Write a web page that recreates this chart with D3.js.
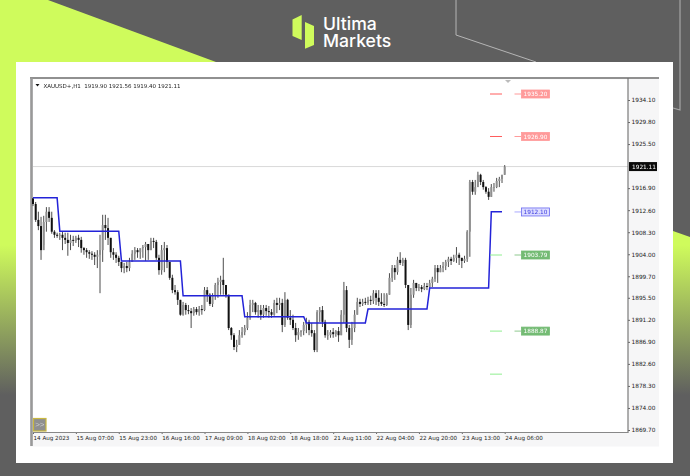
<!DOCTYPE html>
<html>
<head>
<meta charset="utf-8">
<script src="https://cdn.jsdelivr.net/npm/d3@7"></script>
<style>
html,body{margin:0;padding:0;background:#5f5f5f;overflow:hidden}
svg{display:block}
.soft{filter:blur(0.42px)}
text{font-family:"Liberation Sans",sans-serif}
</style>
</head>
<body>
<svg id="c" width="690" height="476"></svg>
<script>
const symbolTitle = "XAUUSD+,H1  1919.90 1921.56 1919.40 1921.11";
const brandWords = ["Ultima", "Markets"];
const priceTicks = [1934.10,1929.80,1925.50,1916.90,1912.60,1908.30,1904.00,1899.70,1895.50,1891.20,1886.90,1882.60,1878.30,1874.00,1869.70];
const timeLabels = ["14 Aug 2023","15 Aug 07:00","15 Aug 23:00","16 Aug 16:00","17 Aug 09:00","18 Aug 02:00","18 Aug 18:00","21 Aug 11:00","22 Aug 04:00","22 Aug 20:00","23 Aug 13:00","24 Aug 06:00"];
const barsPerLabel = 16;
const lastPrice = 1921.11;

const highs = [1915.0,1914.2,1912.3,1911.3,1911.5,1913.2,1913.2,1912.3,1908.7,1908.2,
1908.2,1908.4,1908.2,1908.2,1907.8,1907.6,1907.6,1907.8,1907.4,1905.4,
1905.2,1904.8,1904.6,1904.4,1904.8,1907.8,1911.7,1911.7,1911.1,1907.2,
1905.2,1904.4,1903.7,1902.5,1902.3,1902.5,1903.3,1904.8,1905.4,1905.2,
1904.8,1905.8,1906.4,1906.0,1907.2,1907.2,1906.8,1903.9,1905.8,1906.4,
1905.8,1902.5,1900.0,1898.0,1897.0,1895.1,1894.7,1894.5,1894.1,1893.5,
1893.7,1893.7,1893.9,1894.1,1897.6,1897.6,1896.4,1896.4,1898.4,1899.4,
1899.8,1903.3,1898.0,1896.1,1889.8,1888.6,1887.3,1889.2,1889.8,1890.2,
1892.7,1895.1,1895.1,1894.7,1894.1,1894.1,1894.1,1894.1,1893.9,1893.3,
1895.1,1895.5,1895.5,1895.3,1896.6,1895.3,1893.1,1892.2,1890.6,1889.6,
1889.2,1890.8,1891.6,1891.2,1890.6,1889.2,1893.1,1893.7,1893.9,1891.2,
1889.2,1889.2,1889.6,1889.2,1889.8,1893.1,1898.6,1897.8,1890.2,1890.8,
1893.1,1895.5,1895.3,1895.3,1895.5,1895.7,1895.9,1897.0,1897.0,1897.0,
1896.4,1896.4,1896.4,1900.3,1901.9,1901.9,1903.5,1904.4,1903.3,1903.3,
1898.0,1897.4,1899.0,1898.4,1898.2,1898.0,1898.4,1898.4,1899.0,1899.6,
1901.9,1901.9,1901.9,1902.5,1902.9,1903.5,1903.5,1903.9,1905.4,1904.3,
1903.3,1903.7,1908.7,1918.5,1918.5,1918.5,1920.1,1919.7,1918.5,1917.3,
1916.9,1917.7,1917.9,1918.9,1919.1,1919.5,1921.4];

const lows = [1913.4,1910.3,1908.7,1902.9,1905.8,1908.4,1910.3,1908.0,1907.2,1907.2,
1906.8,1904.8,1906.0,1903.7,1904.8,1905.6,1906.2,1905.4,1904.3,1903.9,
1903.3,1903.1,1902.9,1901.9,1901.3,1896.4,1902.5,1906.8,1905.8,1903.3,
1902.9,1902.3,1901.7,1900.5,1900.3,1900.5,1900.7,1902.5,1902.9,1903.3,
1903.1,1903.3,1902.7,1902.9,1904.8,1905.2,1902.9,1900.0,1900.0,1900.5,
1901.3,1899.0,1896.4,1896.1,1894.1,1892.0,1892.0,1892.2,1892.3,1889.6,
1892.0,1892.2,1892.0,1892.2,1892.9,1894.7,1893.9,1893.7,1895.1,1895.5,
1896.1,1896.1,1895.5,1889.2,1887.3,1885.3,1884.9,1886.3,1887.7,1888.2,
1889.2,1891.2,1892.7,1892.2,1891.6,1891.2,1891.6,1892.0,1891.6,1891.6,
1892.0,1892.5,1893.1,1888.8,1889.8,1891.2,1890.2,1889.2,1886.9,1887.3,
1887.9,1888.2,1888.6,1888.2,1887.9,1884.9,1884.9,1890.8,1889.8,1887.7,
1887.3,1887.7,1887.7,1887.9,1886.9,1888.2,1890.6,1888.8,1885.7,1886.3,
1888.8,1892.2,1893.7,1893.9,1894.1,1894.1,1894.1,1894.3,1894.1,1893.9,
1893.9,1893.7,1893.9,1896.1,1898.6,1899.0,1900.0,1901.9,1901.7,1897.4,
1889.2,1889.6,1895.5,1896.8,1896.8,1896.6,1897.0,1897.0,1897.4,1897.6,
1898.6,1898.4,1900.5,1900.5,1900.9,1901.5,1901.9,1902.5,1902.3,1901.9,
1901.3,1902.3,1902.5,1903.5,1915.6,1915.6,1917.5,1917.5,1916.6,1915.8,
1914.6,1915.2,1916.2,1916.9,1917.1,1917.9,1919.5];

const closes = [1913.8,1910.7,1909.5,1904.8,1910.3,1912.3,1911.1,1908.4,1907.8,1907.6,
1907.8,1907.2,1906.8,1906.2,1906.8,1906.6,1907.2,1906.8,1905.2,1904.8,
1904.4,1904.1,1903.9,1903.5,1903.9,1904.8,1909.7,1909.1,1907.2,1904.4,
1903.9,1903.3,1902.5,1901.3,1901.7,1901.3,1902.5,1904.1,1904.8,1904.4,
1905.2,1905.4,1906.0,1904.8,1906.6,1906.4,1903.3,1900.9,1904.8,1905.2,
1902.5,1899.4,1897.0,1896.6,1895.1,1892.2,1894.1,1893.1,1892.9,1892.5,
1893.3,1892.7,1893.3,1893.1,1897.0,1896.1,1894.3,1895.9,1898.0,1898.6,
1899.0,1898.0,1896.1,1889.6,1888.2,1885.9,1886.3,1888.2,1888.8,1889.6,
1891.6,1894.1,1894.5,1892.7,1893.1,1892.2,1893.5,1892.9,1892.7,1892.2,
1894.5,1894.1,1894.5,1890.2,1895.1,1891.6,1891.2,1889.6,1888.2,1888.8,
1889.0,1890.2,1890.8,1889.2,1888.6,1885.3,1892.7,1893.1,1890.8,1888.2,
1888.2,1888.8,1888.4,1889.0,1888.2,1892.2,1897.0,1889.6,1887.3,1889.6,
1892.2,1894.7,1894.3,1894.7,1894.5,1895.1,1894.9,1896.4,1895.5,1894.7,
1894.3,1894.1,1896.1,1899.4,1901.3,1900.5,1902.9,1902.3,1902.9,1898.0,
1890.2,1896.1,1898.4,1897.4,1897.6,1897.2,1897.8,1897.6,1898.4,1899.2,
1901.3,1900.5,1901.3,1901.7,1902.5,1903.1,1902.7,1903.3,1903.9,1903.3,
1902.7,1903.1,1908.4,1918.1,1916.2,1917.1,1919.5,1918.1,1917.1,1916.2,
1915.2,1917.1,1917.1,1918.3,1918.7,1919.5,1921.11];
// each bar opens at the previous bar's close
const opens = [1914.9, ...closes.slice(0, -1)];

const pivotBars =   [0,9,10,32,33,55,56,78,79,101,102,124,125,147,148,170,171,175];
const pivotLevels = [1915.0,1915.0,1908.5,1908.5,1902.7,1902.7,1895.9,1895.9,1891.8,1891.8,1890.6,1890.6,1893.3,1893.3,1897.4,1897.4,1912.3,1912.3];

const levelValues = [1935.27,1926.98,1912.25,1903.85,1889.0,1880.6];
const levelLabels = ["1935.20","1926.90","1912.10","1903.79","1888.87",""];
const levelKinds  = ["red","red","blue","green","green","green"];

const svg = d3.select("#c");
const defs = svg.append("defs");
const grad = defs.append("linearGradient").attr("id","lime").attr("gradientUnits","userSpaceOnUse")
  .attr("x1",0).attr("x2",0).attr("y1",245).attr("y2",395);
grad.append("stop").attr("offset",0).attr("stop-color","#cffb5c");
grad.append("stop").attr("offset",1).attr("stop-color","#5f5f5f");

// background
svg.append("rect").attr("width",690).attr("height",476).attr("fill","#5f5f5f");
svg.append("polygon").attr("points","0,0 48,0 216,62 16,62 16,476 0,476").attr("fill","url(#lime)");
svg.append("polygon").attr("points","673,231 690,237 690,476 673,476").attr("fill","url(#lime)");
svg.append("polyline").attr("points","456,0 456,35 536,62").attr("fill","none").attr("stroke","#b5b5b5").attr("stroke-width",1);
svg.append("polyline").attr("points","680,0 680,110 673,108").attr("fill","none").attr("stroke","#a5a5a5").attr("stroke-width",1.2);

// logo
const logo = svg.append("g");
logo.append("polygon").attr("points","292.5,19.5 301.7,15 301.7,40 292.5,36").attr("fill","#cffb5c");
logo.append("polygon").attr("points","305,22 314,26 314,45 305,48.7").attr("fill","#cffb5c");
logo.selectAll("text.brand").data(brandWords).join("text").attr("class","brand")
  .attr("x",323).attr("y",(d,i)=>i?47:29.8).text(d=>d)
  .attr("fill","#fff").style("font-family","Inter,sans-serif").style("font-weight",500).style("font-size","17.6px");

// sheet
svg.append("rect").attr("x",16).attr("y",62).attr("width",657).attr("height",401).attr("fill","#fff");
const chart = svg.append("g").attr("class","soft");
chart.append("rect").attr("x",30).attr("y",77).attr("width",629).attr("height",369.5).attr("fill","#f6f6f7");

const x = d3.scaleLinear().domain([0,176]).range([33,504.7]);
const y = d3.scaleLinear().domain([1869.70,1934.10]).range([430,100]);

chart.append("rect").attr("x",33).attr("y",79.5).attr("width",595).attr("height",352.5).attr("fill","#fff");
chart.append("line").attr("x1",33).attr("x2",628).attr("y1",y(lastPrice)).attr("y2",y(lastPrice)).attr("stroke","#d9d9d9").attr("stroke-width",1);

// axes
const yAxis = d3.axisRight(y).tickValues(priceTicks).tickSize(2).tickPadding(1.5).tickFormat(d3.format(".2f"));
const yG = chart.append("g").attr("transform","translate(628,0)").call(yAxis);
const xTicks = timeLabels.map((d,i)=>i*barsPerLabel);
const xAxis = d3.axisBottom(x).tickValues(xTicks).tickSize(2).tickPadding(2).tickFormat((d,i)=>timeLabels[i]);
const xG = chart.append("g").attr("transform","translate(0,432)").call(xAxis);
yG.select(".domain").remove(); xG.select(".domain").remove();
chart.selectAll(".tick line").attr("stroke","#444").attr("stroke-width",.8);
yG.selectAll("text").attr("fill","#222").style("font-size","5.8px").style("font-family","'DejaVu Sans',sans-serif");
xG.selectAll("text").attr("fill","#222").attr("text-anchor","start").style("font-size","5.6px").style("font-family","'DejaVu Sans',sans-serif");

// frame
chart.append("line").attr("x1",30).attr("x2",659).attr("y1",78).attr("y2",78).attr("stroke","#6e6e6e").attr("stroke-width",1.4);
chart.append("line").attr("x1",628).attr("x2",628).attr("y1",78).attr("y2",433).attr("stroke","#6e6e6e").attr("stroke-width",1.1);
chart.append("line").attr("x1",33).attr("x2",628).attr("y1",432.5).attr("y2",432.5).attr("stroke","#888").attr("stroke-width",1.2);
chart.append("line").attr("x1",31.5).attr("x2",31.5).attr("y1",78).attr("y2",446).attr("stroke","#999").attr("stroke-width",2.6);
chart.append("polygon").attr("points","505,80 511,80 508,83").attr("fill","#bbb");

// title
chart.append("path").attr("d","M35.5,84 L39.5,84 L37.5,86.5 Z").attr("fill","#111");
chart.append("text").attr("x",43.5).attr("y",87.6).text(symbolTitle).attr("fill","#222").style("font-size","5.5px").style("font-family","'DejaVu Sans',sans-serif").style("white-space","pre");

// candles
const bars = d3.range(closes.length);
chart.append("g").selectAll("line").data(bars).join("line")
  .attr("x1",i=>x(i)).attr("x2",i=>x(i)).attr("y1",i=>y(highs[i])).attr("y2",i=>y(lows[i]))
  .attr("stroke","#4d4d4d").attr("stroke-width",1);
chart.append("g").selectAll("rect").data(bars).join("rect")
  .attr("x",i=>x(i)-1).attr("width",2)
  .attr("y",i=>Math.min(y(opens[i]),y(closes[i])))
  .attr("height",i=>Math.max(.6,Math.abs(y(opens[i])-y(closes[i]))))
  .attr("fill",i=>closes[i]>=opens[i]?"#8f8f8f":"#111");

// pivot line
chart.append("path").datum(pivotBars)
  .attr("d",d3.line().x(d=>x(d)).y((d,i)=>y(pivotLevels[i])))
  .attr("fill","none").attr("stroke","#2323d8").attr("stroke-width",1.5);

// level markers
const kinds = {red:{dash:"#ff5c5c",stub:"#ff9a9a",bg:"#ff9a9a",fg:"#fff"},
               blue:{dash:"#a9a9ff",stub:"#a9a9ff",bg:"#dcdcff",fg:"#3a3ae0"},
               green:{dash:"#90ee90",stub:"#8fc98f",bg:"#74bb74",fg:"#fff"}};
const lv = chart.append("g").selectAll("g").data(levelValues).join("g");
lv.filter((d,i)=>levelKinds[i]!=="blue").append("line").attr("x1",490).attr("x2",502).attr("y1",d=>y(d)).attr("y2",d=>y(d))
  .attr("stroke",(d,i)=>kinds[levelKinds[levelValues.indexOf(d)]].dash).attr("stroke-width",1);
lv.filter((d,i)=>levelLabels[i]!=="").each(function(d){
  const i = levelValues.indexOf(d), k = kinds[levelKinds[i]], g = d3.select(this), py = y(d);
  g.append("line").attr("x1",514.5).attr("x2",521).attr("y1",py).attr("y2",py).attr("stroke",k.stub).attr("stroke-width",1);
  g.append("rect").attr("x",521.5).attr("y",py-4).attr("width",28).attr("height",8).attr("fill",k.bg)
    .attr("stroke",levelKinds[i]==="blue"?"#6a6af0":k.bg).attr("stroke-width",.8);
  g.append("text").attr("x",535.5).attr("y",py+2.1).attr("text-anchor","middle").text(levelLabels[i])
    .attr("fill",k.fg).style("font-size","5.8px").style("font-family","'DejaVu Sans',sans-serif");
});

// last price tag
chart.append("rect").attr("x",629).attr("y",y(lastPrice)-4.5).attr("width",28).attr("height",9).attr("fill","#0a0a0a");
chart.append("text").attr("x",632).attr("y",y(lastPrice)+2.1).text(d3.format(".2f")(lastPrice)).attr("fill","#fff").style("font-size","5.8px").style("font-family","'DejaVu Sans',sans-serif");

// scroll button
chart.append("rect").attr("x",33.5).attr("y",418.5).attr("width",12.5).attr("height",12.5).attr("fill","#8f8f8f").attr("stroke","#c9b840").attr("stroke-width",1.2);
chart.append("text").attr("x",39.8).attr("y",427).attr("text-anchor","middle").text(">>").attr("fill","#cfcfcf").style("font-size","8px");
</script>
</body>
</html>
